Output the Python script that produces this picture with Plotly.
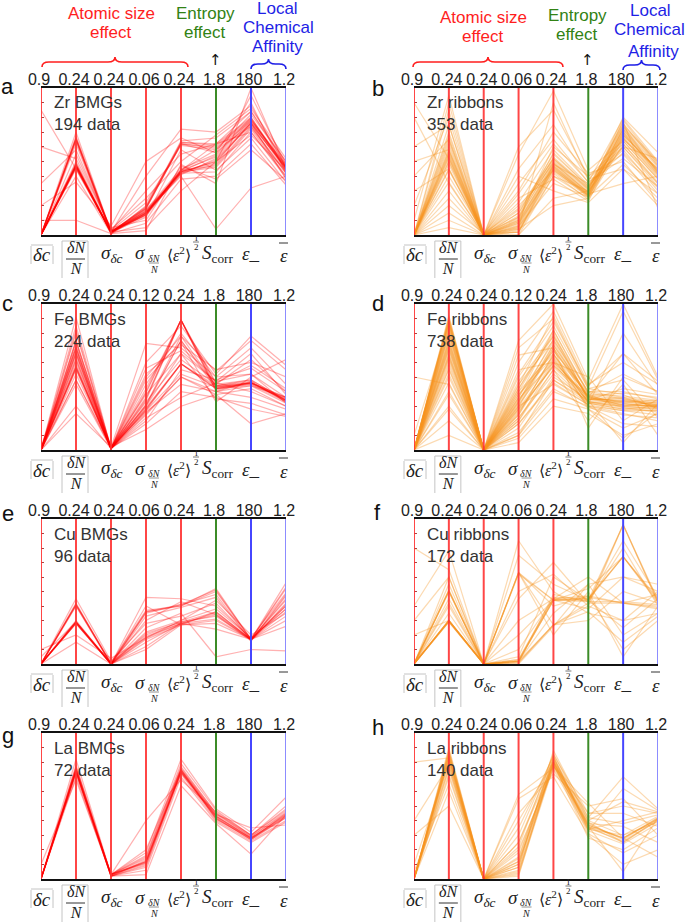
import plotly.graph_objects as go

W, H = 685, 924

# ---------------- data (values normalised to each axis' top value, 0 = bottom, 1 = top) -------------
# axis order: |dc|, dN/N, sigma_dc, sigma_dN/N, <eps^2>^1/2, S_corr, eps_-, eps_bar
top_zr = ["0.9", "0.24", "0.24", "0.06", "0.24", "1.8", "180", "1.2"]
top_fe = ["0.9", "0.24", "0.24", "0.12", "0.24", "1.8", "180", "1.2"]
top_cu = ["0.9", "0.24", "0.24", "0.06", "0.24", "1.8", "180", "1.2"]
top_la = ["0.9", "0.24", "0.24", "0.06", "0.24", "1.8", "180", "1.2"]

zr_bmg = [
    [0, 0.47, 0.02, 0.15, 0.43, 0.50, 0.76, 0.45],
    [0, 0.47, 0.01, 0.14, 0.42, 0.48, 0.74, 0.43],
    [0, 0.48, 0.02, 0.16, 0.44, 0.53, 0.78, 0.47],
    [0, 0.46, 0.03, 0.13, 0.43, 0.46, 0.72, 0.40],
    [0, 0.49, 0.01, 0.17, 0.45, 0.55, 0.80, 0.46],
    [0, 0.45, 0.02, 0.15, 0.41, 0.52, 0.76, 0.38],
    [0, 0.48, 0.02, 0.14, 0.44, 0.58, 0.82, 0.50],
    [0, 0.66, 0.02, 0.18, 0.62, 0.60, 0.78, 0.48],
    [0, 0.64, 0.01, 0.20, 0.63, 0.62, 0.80, 0.44],
    [0, 0.67, 0.03, 0.22, 0.61, 0.58, 0.74, 0.42],
    [0, 0.65, 0.02, 0.19, 0.64, 0.66, 0.84, 0.50],
    [0, 0.70, 0.02, 0.12, 0.58, 0.44, 0.66, 0.36],
    [0, 0.55, 0.04, 0.25, 0.50, 0.68, 0.86, 0.52],
    [0, 0.40, 0.01, 0.08, 0.38, 0.40, 0.62, 0.34],
    [0.35, 0.58, 0.03, 0.30, 0.55, 0.62, 0.70, 0.40],
    [0.60, 0.52, 0.05, 0.10, 0.47, 0.38, 0.58, 0.37],
    [0.85, 0.45, 0.02, 0.05, 0.30, 0.50, 0.95, 0.48],
    [0.10, 0.10, 0.01, 0.03, 0.48, 0.35, 1.00, 0.45],
    [0, 0.62, 0.02, 0.40, 0.72, 0.70, 0.88, 0.46],
    [0, 0.50, 0.03, 0.16, 0.40, 0.04, 0.32, 0.40],
    [0.20, 0.36, 0.06, 0.50, 0.66, 0.56, 0.90, 0.42],
    [0, 0.47, 0.02, 0.15, 0.43, 0.50, 0.68, 0.44],
    [0, 0.65, 0.02, 0.18, 0.62, 0.56, 0.76, 0.46],
    [0, 0.47, 0.02, 0.15, 0.43, 0.49, 0.77, 0.44],
    [0, 0.46, 0.02, 0.14, 0.42, 0.51, 0.75, 0.46],
    [0, 0.48, 0.01, 0.15, 0.44, 0.47, 0.73, 0.42],
    [0, 0.47, 0.02, 0.16, 0.43, 0.54, 0.79, 0.45],
    [0, 0.65, 0.02, 0.19, 0.62, 0.59, 0.77, 0.47],
    [0, 0.66, 0.02, 0.18, 0.63, 0.61, 0.79, 0.45],
    [0, 0.48, 0.02, 0.14, 0.44, 0.62, 0.84, 0.48],
    [0, 0.46, 0.02, 0.17, 0.42, 0.43, 0.70, 0.39],
]
zr_ribbon = [
    [0, 0.54, 0.00, 0.08, 0.47, 0.28, 0.70, 0.43],
    [0, 0.50, 0.00, 0.05, 0.45, 0.26, 0.66, 0.40],
    [0, 0.58, 0.01, 0.12, 0.50, 0.30, 0.72, 0.46],
    [0, 0.45, 0.00, 0.03, 0.42, 0.24, 0.62, 0.36],
    [0, 0.62, 0.00, 0.15, 0.55, 0.33, 0.75, 0.50],
    [0, 0.40, 0.01, 0.02, 0.48, 0.35, 0.58, 0.30],
    [0, 0.70, 0.00, 0.20, 0.44, 0.27, 0.78, 0.48],
    [0, 0.30, 0.00, 0.10, 0.60, 0.40, 0.55, 0.28],
    [0, 0.85, 0.00, 0.25, 0.38, 0.23, 0.68, 0.44],
    [0, 0.20, 0.01, 0.30, 0.70, 0.42, 0.50, 0.22],
    [0.10, 0.95, 0.00, 0.05, 0.90, 0.38, 0.60, 0.52],
    [0.40, 0.65, 0.00, 0.40, 0.30, 0.22, 0.45, 0.20],
    [0.80, 0.35, 0.00, 0.55, 0.98, 0.44, 0.64, 0.38],
    [0, 0.10, 0.00, 0.00, 0.25, 0.30, 0.80, 0.56],
    [0.60, 0.75, 0.01, 0.18, 0.52, 0.31, 0.74, 0.42],
    [0, 0.55, 0.00, 0.07, 0.46, 0.27, 0.70, 0.41],
    [0, 0.48, 0.00, 0.10, 0.48, 0.29, 0.68, 0.45],
    [0.20, 0.80, 0.00, 0.35, 0.65, 0.36, 0.52, 0.33],
    [0, 0.57, 0.00, 0.04, 0.20, 0.25, 0.73, 0.47],
    [0, 0.05, 0.00, 0.15, 0.52, 0.32, 0.77, 0.18],
    [0.90, 0.52, 0.00, 0.02, 0.45, 0.28, 0.35, 0.40],
    [0, 0.66, 0.00, 0.60, 0.85, 0.40, 0.62, 0.35],
    [0, 0.52, 0.00, 0.06, 0.46, 0.27, 0.69, 0.42],
    [0, 0.56, 0.00, 0.09, 0.49, 0.29, 0.71, 0.44],
    [0, 0.60, 0.00, 0.11, 0.51, 0.31, 0.76, 0.47],
    [0, 0.44, 0.00, 0.04, 0.43, 0.26, 0.64, 0.38],
    [0, 0.36, 0.00, 0.02, 0.40, 0.30, 0.60, 0.35],
    [0, 0.64, 0.00, 0.13, 0.53, 0.32, 0.66, 0.39],
    [0, 0.75, 0.00, 0.22, 0.58, 0.34, 0.56, 0.32],
    [0, 0.25, 0.00, 0.06, 0.35, 0.26, 0.48, 0.25],
    [0, 0.90, 0.00, 0.28, 0.62, 0.36, 0.79, 0.50],
    [0, 0.50, 0.00, 0.00, 0.40, 0.25, 0.65, 0.45],
    [0, 0.53, 0.00, 0.09, 0.47, 0.28, 0.72, 0.43],
    [0.30, 0.45, 0.00, 0.45, 0.75, 0.38, 0.45, 0.28],
    [0, 0.68, 0.00, 0.17, 0.49, 0.29, 0.74, 0.49],
    [0, 0.15, 0.00, 0.12, 0.56, 0.33, 0.60, 0.33],
    [0.50, 0.58, 0.00, 0.08, 0.44, 0.27, 0.67, 0.41],
]
fe_bmg = [
    [0, 0.91, 0.01, 0.35, 0.89, 0.43, 0.46, 0.34],
    [0, 0.75, 0.01, 0.40, 0.89, 0.40, 0.47, 0.33],
    [0, 0.66, 0.02, 0.30, 0.75, 0.42, 0.44, 0.36],
    [0, 0.57, 0.01, 0.28, 0.59, 0.44, 0.46, 0.35],
    [0, 0.55, 0.01, 0.25, 0.50, 0.38, 0.42, 0.30],
    [0, 0.48, 0.02, 0.33, 0.62, 0.45, 0.48, 0.34],
    [0, 0.70, 0.01, 0.45, 0.80, 0.50, 0.70, 0.45],
    [0, 0.60, 0.01, 0.52, 0.72, 0.55, 0.60, 0.50],
    [0, 0.80, 0.02, 0.38, 0.66, 0.35, 0.32, 0.24],
    [0, 0.62, 0.01, 0.20, 0.55, 0.48, 0.56, 0.40],
    [0, 0.72, 0.01, 0.60, 0.85, 0.52, 0.78, 0.58],
    [0, 0.25, 0.02, 0.14, 0.30, 0.38, 0.18, 0.25],
    [0, 0.30, 0.01, 0.22, 0.36, 0.46, 0.40, 0.30],
    [0, 0.68, 0.01, 0.48, 0.74, 0.33, 0.50, 0.62],
    [0, 0.52, 0.02, 0.26, 0.45, 0.40, 0.36, 0.28],
    [0, 0.85, 0.01, 0.34, 0.89, 0.46, 0.58, 0.42],
    [0, 0.64, 0.01, 0.56, 0.68, 0.47, 0.66, 0.38],
    [0, 0.58, 0.01, 0.29, 0.59, 0.42, 0.46, 0.36],
    [0, 0.74, 0.02, 0.73, 0.70, 0.50, 0.52, 0.32],
    [0, 0.45, 0.01, 0.18, 0.40, 0.36, 0.28, 0.23],
    [0, 0.67, 0.01, 0.31, 0.78, 0.44, 0.48, 0.34],
    [0, 0.56, 0.01, 0.27, 0.52, 0.43, 0.45, 0.33],
    [0.02, 0.70, 0.01, 0.42, 0.89, 0.41, 0.46, 0.36],
    [0, 0.56, 0.01, 0.27, 0.59, 0.43, 0.46, 0.34],
    [0, 0.57, 0.01, 0.28, 0.59, 0.42, 0.45, 0.35],
    [0, 0.66, 0.01, 0.31, 0.75, 0.44, 0.47, 0.33],
    [0, 0.75, 0.01, 0.39, 0.89, 0.42, 0.46, 0.34],
    [0, 0.48, 0.01, 0.24, 0.50, 0.40, 0.44, 0.32],
    [0, 0.82, 0.01, 0.36, 0.89, 0.45, 0.62, 0.40],
    [0, 0.62, 0.01, 0.30, 0.66, 0.47, 0.52, 0.36],
    [0, 0.70, 0.01, 0.50, 0.78, 0.54, 0.75, 0.55],
]
fe_ribbon = [
    [0, 0.89, 0.00, 0.30, 0.72, 0.36, 0.33, 0.31],
    [0, 0.85, 0.00, 0.25, 0.65, 0.38, 0.30, 0.29],
    [0, 0.80, 0.00, 0.40, 0.80, 0.34, 0.36, 0.33],
    [0, 0.75, 0.00, 0.35, 0.60, 0.37, 0.32, 0.30],
    [0, 0.70, 0.00, 0.20, 0.55, 0.32, 0.28, 0.27],
    [0, 0.65, 0.00, 0.45, 0.75, 0.40, 0.40, 0.35],
    [0, 0.60, 0.00, 0.15, 0.50, 0.35, 0.34, 0.32],
    [0, 0.55, 0.00, 0.50, 0.85, 0.42, 0.38, 0.28],
    [0, 0.90, 0.00, 0.60, 0.95, 0.45, 0.60, 0.45],
    [0, 0.50, 0.00, 0.10, 0.40, 0.30, 0.25, 0.20],
    [0, 0.40, 0.00, 0.08, 0.35, 0.28, 0.15, 0.25],
    [0, 0.30, 0.00, 0.05, 0.30, 0.25, 0.10, 0.18],
    [0, 0.20, 0.00, 0.65, 0.70, 0.15, 0.50, 0.40],
    [0, 0.88, 0.00, 0.75, 1.00, 0.48, 1.00, 0.50],
    [0, 0.82, 0.00, 0.32, 0.70, 0.36, 0.66, 0.38],
    [0, 0.78, 0.00, 0.28, 0.62, 0.33, 0.33, 0.34],
    [0, 0.72, 0.00, 0.38, 0.68, 0.39, 0.35, 0.30],
    [0, 0.10, 0.00, 0.22, 0.55, 0.20, 0.45, 0.10],
    [0.10, 0.86, 0.00, 0.30, 0.45, 0.31, 0.80, 0.44],
    [0, 0.62, 0.00, 0.55, 0.60, 0.50, 0.20, 0.35],
    [0, 0.92, 0.00, 0.42, 0.78, 0.35, 0.31, 0.30],
    [0, 0.68, 0.00, 0.27, 0.58, 0.37, 0.29, 0.26],
    [0.50, 0.45, 0.00, 0.70, 0.90, 0.42, 0.48, 0.22],
    [0, 0.84, 0.00, 0.18, 0.48, 0.34, 0.05, 0.32],
    [0, 0.88, 0.00, 0.33, 0.76, 0.36, 0.31, 0.30],
    [0, 0.86, 0.00, 0.29, 0.70, 0.33, 0.29, 0.28],
    [0, 0.83, 0.00, 0.36, 0.74, 0.35, 0.34, 0.31],
    [0, 0.79, 0.00, 0.24, 0.66, 0.32, 0.30, 0.33],
    [0, 0.76, 0.00, 0.42, 0.82, 0.38, 0.37, 0.34],
    [0, 0.73, 0.00, 0.31, 0.63, 0.30, 0.27, 0.27],
    [0, 0.69, 0.00, 0.26, 0.58, 0.36, 0.33, 0.31],
    [0, 0.66, 0.00, 0.47, 0.78, 0.40, 0.36, 0.29],
    [0, 0.63, 0.00, 0.22, 0.52, 0.33, 0.31, 0.30],
    [0, 0.58, 0.00, 0.34, 0.68, 0.37, 0.39, 0.36],
    [0, 0.52, 0.00, 0.18, 0.46, 0.31, 0.27, 0.24],
    [0, 0.46, 0.00, 0.12, 0.42, 0.29, 0.24, 0.22],
    [0, 0.38, 0.00, 0.28, 0.57, 0.34, 0.42, 0.38],
    [0, 0.91, 0.00, 0.52, 0.88, 0.44, 0.66, 0.47],
    [0, 0.87, 0.00, 0.36, 0.82, 0.39, 0.52, 0.40],
    [0, 0.81, 0.00, 0.20, 0.60, 0.30, 0.18, 0.16],
    [0, 0.74, 0.00, 0.40, 0.66, 0.28, 0.08, 0.26],
    [0, 0.71, 0.00, 0.33, 0.72, 0.37, 0.35, 0.32],
    [0, 0.64, 0.00, 0.24, 0.61, 0.35, 0.32, 0.29],
    [0, 0.56, 0.00, 0.38, 0.64, 0.33, 0.30, 0.28],
    [0, 0.28, 0.00, 0.10, 0.48, 0.32, 0.28, 0.30],
    [0, 0.89, 0.00, 0.44, 0.92, 0.43, 0.95, 0.48],
]
cu_bmg = [
    [0, 0.29, 0.00, 0.19, 0.28, 0.35, 0.17, 0.40],
    [0, 0.29, 0.01, 0.20, 0.29, 0.33, 0.17, 0.36],
    [0, 0.28, 0.00, 0.17, 0.27, 0.30, 0.17, 0.45],
    [0, 0.30, 0.00, 0.22, 0.30, 0.38, 0.18, 0.49],
    [0, 0.41, 0.00, 0.36, 0.40, 0.52, 0.17, 0.56],
    [0, 0.41, 0.01, 0.37, 0.40, 0.50, 0.17, 0.52],
    [0, 0.40, 0.00, 0.35, 0.41, 0.48, 0.16, 0.42],
    [0, 0.28, 0.00, 0.12, 0.28, 0.24, 0.17, 0.30],
    [0, 0.29, 0.00, 0.10, 0.27, 0.28, 0.17, 0.33],
    [0, 0.15, 0.00, 0.46, 0.45, 0.40, 0.18, 0.38],
    [0, 0.45, 0.02, 0.28, 0.33, 0.42, 0.17, 0.26],
    [0.05, 0.29, 0.00, 0.25, 0.35, 0.05, 0.10, 0.09],
    [0, 0.28, 0.00, 0.40, 0.27, 0.36, 0.17, 0.40],
    [0, 0.42, 0.00, 0.30, 0.43, 0.34, 0.16, 0.47],
    [0.10, 0.20, 0.04, 0.18, 0.30, 0.44, 0.20, 0.35],
    [0, 0.29, 0.00, 0.18, 0.28, 0.34, 0.17, 0.41],
    [0, 0.41, 0.00, 0.36, 0.41, 0.51, 0.17, 0.53],
    [0, 0.28, 0.00, 0.15, 0.28, 0.31, 0.17, 0.38],
    [0, 0.29, 0.00, 0.21, 0.29, 0.36, 0.17, 0.44],
    [0, 0.40, 0.00, 0.33, 0.39, 0.46, 0.16, 0.48],
]
cu_ribbon = [
    [0, 0.30, 0.00, 0.02, 0.44, 0.44, 0.74, 0.42],
    [0, 0.30, 0.00, 0.01, 0.27, 0.40, 0.96, 0.44],
    [0, 0.50, 0.00, 0.63, 0.44, 0.46, 0.42, 0.40],
    [0, 0.50, 0.00, 0.03, 0.46, 0.45, 0.74, 0.45],
    [0, 0.30, 0.00, 0.63, 0.20, 0.50, 0.05, 0.40],
    [0, 0.45, 0.00, 0.85, 0.50, 0.35, 0.30, 0.50],
    [0, 0.29, 0.00, 0.00, 0.26, 0.55, 0.20, 0.35],
    [0, 0.55, 0.00, 0.05, 0.60, 0.44, 0.96, 0.42],
    [0.40, 0.78, 0.00, 0.45, 0.70, 0.42, 0.42, 0.38],
    [0, 0.30, 0.00, 0.02, 0.44, 0.38, 0.60, 0.55],
    [0.80, 0.65, 0.00, 0.30, 0.45, 0.60, 0.42, 0.48],
    [0, 0.51, 0.00, 0.01, 0.48, 0.43, 0.80, 0.40],
    [0, 0.29, 0.00, 0.63, 0.40, 0.47, 0.10, 0.30],
    [0, 0.40, 0.00, 0.20, 0.44, 0.52, 0.74, 0.43],
    [0.20, 0.30, 0.00, 0.02, 0.27, 0.30, 0.50, 0.42],
    [0, 0.60, 0.00, 0.75, 0.55, 0.44, 0.25, 0.45],
    [0, 0.30, 0.00, 0.02, 0.44, 0.45, 0.74, 0.44],
    [0, 0.51, 0.00, 0.62, 0.44, 0.43, 0.43, 0.41],
    [0, 0.29, 0.00, 0.01, 0.27, 0.42, 0.96, 0.43],
    [0, 0.50, 0.00, 0.03, 0.45, 0.47, 0.42, 0.39],
    [0, 0.35, 0.00, 0.50, 0.62, 0.40, 0.30, 0.35],
    [0, 0.42, 0.00, 0.02, 0.35, 0.55, 0.60, 0.50],
    [0.30, 0.60, 0.00, 0.10, 0.45, 0.44, 0.85, 0.46],
    [0, 0.30, 0.00, 0.63, 0.27, 0.36, 0.15, 0.33],
]
la_bmg = [
    [0, 0.74, 0.03, 0.12, 0.74, 0.43, 0.28, 0.44],
    [0, 0.73, 0.02, 0.10, 0.73, 0.42, 0.27, 0.42],
    [0, 0.76, 0.03, 0.14, 0.76, 0.45, 0.29, 0.46],
    [0, 0.72, 0.02, 0.08, 0.72, 0.40, 0.26, 0.40],
    [0, 0.78, 0.03, 0.16, 0.79, 0.47, 0.30, 0.50],
    [0, 0.70, 0.02, 0.06, 0.70, 0.39, 0.25, 0.39],
    [0, 0.82, 0.03, 0.18, 0.82, 0.48, 0.32, 0.56],
    [0, 0.75, 0.02, 0.03, 0.64, 0.38, 0.17, 0.44],
    [0.10, 0.68, 0.03, 0.20, 0.75, 0.44, 0.35, 0.37],
    [0, 0.74, 0.02, 0.12, 0.73, 0.43, 0.28, 0.43],
    [0, 0.75, 0.03, 0.11, 0.75, 0.41, 0.27, 0.45],
    [0, 0.77, 0.03, 0.40, 0.68, 0.46, 0.30, 0.47],
    [0, 0.74, 0.03, 0.12, 0.74, 0.43, 0.28, 0.44],
    [0, 0.75, 0.02, 0.13, 0.75, 0.44, 0.29, 0.45],
    [0, 0.73, 0.03, 0.11, 0.73, 0.42, 0.27, 0.43],
    [0, 0.74, 0.02, 0.09, 0.74, 0.41, 0.28, 0.42],
    [0, 0.76, 0.03, 0.15, 0.77, 0.45, 0.30, 0.48],
]
la_ribbon = [
    [0, 0.85, 0.00, 0.10, 0.80, 0.37, 0.28, 0.41],
    [0, 0.82, 0.00, 0.05, 0.78, 0.35, 0.26, 0.40],
    [0, 0.88, 0.00, 0.15, 0.82, 0.40, 0.30, 0.43],
    [0, 0.78, 0.00, 0.20, 0.75, 0.33, 0.24, 0.38],
    [0, 0.75, 0.00, 0.30, 0.85, 0.45, 0.50, 0.45],
    [0, 0.70, 0.00, 0.45, 0.72, 0.50, 0.55, 0.30],
    [0, 0.60, 0.00, 0.55, 0.70, 0.30, 0.10, 0.20],
    [0, 0.90, 0.00, 0.08, 0.88, 0.42, 0.70, 0.48],
    [0.10, 0.80, 0.00, 0.25, 0.79, 0.28, 0.20, 0.35],
    [0.30, 0.50, 0.00, 0.58, 0.76, 0.38, 0.36, 0.25],
    [0.80, 0.83, 0.00, 0.02, 0.81, 0.36, 0.05, 0.42],
    [0, 0.86, 0.00, 0.12, 0.77, 0.52, 0.28, 0.15],
    [0, 0.84, 0.00, 0.35, 0.84, 0.34, 0.40, 0.46],
    [0.05, 0.65, 0.00, 0.04, 0.80, 0.39, 0.25, 0.41],
    [0, 0.84, 0.00, 0.08, 0.80, 0.36, 0.28, 0.41],
    [0, 0.86, 0.00, 0.12, 0.81, 0.38, 0.27, 0.42],
    [0, 0.80, 0.00, 0.18, 0.78, 0.34, 0.30, 0.39],
    [0, 0.83, 0.00, 0.06, 0.79, 0.36, 0.25, 0.40],
    [0, 0.76, 0.00, 0.25, 0.83, 0.42, 0.38, 0.44],
    [0, 0.88, 0.00, 0.22, 0.86, 0.40, 0.53, 0.46],
    [0, 0.72, 0.00, 0.40, 0.80, 0.31, 0.18, 0.30],
    [0, 0.82, 0.00, 0.03, 0.77, 0.45, 0.45, 0.36],
    [0.40, 0.78, 0.00, 0.14, 0.82, 0.37, 0.28, 0.42],
    [0, 0.87, 0.00, 0.10, 0.84, 0.33, 0.62, 0.47],
]

panel_letters = ["a", "b", "c", "d", "e", "f", "g", "h"]
panel_names = ["Zr BMGs", "Zr ribbons", "Fe BMGs", "Fe ribbons",
               "Cu BMGs", "Cu ribbons", "La BMGs", "La ribbons"]
panel_counts = [194, 353, 224, 738, 96, 172, 72, 140]
panel_data = [zr_bmg, zr_ribbon, fe_bmg, fe_ribbon, cu_bmg, cu_ribbon, la_bmg, la_ribbon]
panel_tops = [top_zr, top_zr, top_fe, top_fe, top_cu, top_cu, top_la, top_la]

# bottom axis-name pieces: (axis index, text, dx px, dy px below frame, font size)
label_pieces = [
    (0, "<i>δc</i>", 1, 20, 19),
    (1, "<i>δN</i><br><i>N</i>", 0, 23, 16),
    (2, "<i>σ</i><sub><i>δc</i></sub>", 1, 19, 19),
    (3, "<i>σ</i>", -6, 18, 19),
    (3, "<i>δN</i>", 8, 23, 10),
    (3, "<i>N</i>", 8, 34, 10),
    (4, "⟨<i>ε</i><sup>2</sup>⟩", -2, 19, 16),
    (4, "1", 15, 3, 9),
    (4, "2", 15, 12, 9),
    (5, "<i>S</i><sub>corr</sub>", 1, 19, 19),
    (6, "<i>ε</i>_", 0, 19, 19),
    (7, "<i>ε</i>", -2, 21, 19),
]

# ---------------- layout geometry (pixels) ----------------
cols = [(41, 286), (414, 658)]
rows = [(88, 235), (304, 450), (519, 664), (733, 879)]
letter_pos = [(8, 86), (378, 88), (8, 304), (378, 304), (8, 513), (377, 512), (8, 735), (378, 727)]

RED_LINE = "rgb(255,0,0)"
ORANGE_LINE = "rgb(247,148,30)"
axis_colors = ["rgba(255,50,50,0.9)"] * 5 + ["rgb(60,140,40)", "rgb(70,70,255)", "rgb(140,140,255)"]
GRAY = "#c4c4c4"


def px(x):
    return x / W


def py(y):
    return 1 - y / H


def pline(xa_, ya_, xb_, yb_, color, width=1):
    return dict(type="line", xref="paper", yref="paper", x0=px(xa_), y0=py(ya_),
                x1=px(xb_), y1=py(yb_), line=dict(color=color, width=width))


fig = go.Figure()
layout = dict(width=W, height=H, margin=dict(l=0, r=0, t=0, b=0, pad=0, autoexpand=False),
              paper_bgcolor="white", plot_bgcolor="rgba(0,0,0,0)", showlegend=False)
annotations = []
shapes = []

for k in range(8):
    c, r = k % 2, k // 2
    (x0, x1), (y0, y1) = cols[c], rows[r]
    xa = "x" if k == 0 else f"x{k+1}"
    ya = "y" if k == 0 else f"y{k+1}"
    xkey = "xaxis" if k == 0 else f"xaxis{k+1}"
    ykey = "yaxis" if k == 0 else f"yaxis{k+1}"
    layout[xkey] = dict(domain=[px(x0), px(x1)], range=[0, 7], anchor=ya, side="top",
                        tickvals=list(range(8)), ticktext=panel_tops[k], ticks="",
                        ticklabelstandoff=-5, ticklabelshift=-2, automargin=False,
                        tickfont=dict(family="Liberation Sans, Arial", size=16, color="#222"),
                        showgrid=False, zeroline=False, showline=True, mirror=True,
                        linecolor="#111", linewidth=2, fixedrange=True)
    layout[ykey] = dict(domain=[py(y1), py(y0)], range=[0, 1], anchor=xa, automargin=False,
                        showgrid=False, zeroline=False, showline=False, showticklabels=False,
                        ticks="inside", ticklen=3, tickwidth=1, tickcolor="#a44",
                        tickvals=[i / 10 for i in range(1, 10)], fixedrange=True)

    col = RED_LINE if k % 2 == 0 else ORANGE_LINE
    op = 0.30 if k % 2 == 0 else 0.34
    for prof in panel_data[k]:
        fig.add_trace(go.Scatter(x=list(range(8)), y=prof, mode="lines",
                                 line=dict(color=col, width=1.2), opacity=op,
                                 xaxis=xa, yaxis=ya, hoverinfo="skip", showlegend=False))

    # vertical parallel axes
    for i in range(8):
        shapes.append(dict(type="line", xref=xa, yref=f"{ya} domain", x0=i, x1=i, y0=0, y1=1,
                           line=dict(color=axis_colors[i], width=2), layer="above"))

    # bottom axis names
    for i, txt, dx, dy, fs in label_pieces:
        annotations.append(dict(x=i, y=0, xref=xa, yref=f"{ya} domain", xshift=dx, yshift=-dy,
                                text=txt, showarrow=False, xanchor="center", yanchor="middle",
                                font=dict(family="Liberation Serif, Times New Roman", size=fs,
                                          color="#222")))
    sp = (x1 - x0) / 7
    a0, a1, a3, a4, a7 = x0, x0 + sp, x0 + 3 * sp, x0 + 4 * sp, x1
    # |dc| gray box
    shapes.append(pline(a0 - 10, y1 + 11, a0 - 10, y1 + 29, GRAY))
    shapes.append(pline(a0 + 12, y1 + 11, a0 + 12, y1 + 29, GRAY))
    shapes.append(pline(a0 - 10, y1 + 10, a0 + 12, y1 + 10, GRAY))
    # |dN/N| gray box + fraction bar
    shapes.append(pline(a1 - 14, y1 + 6, a1 - 14, y1 + 43, GRAY))
    shapes.append(pline(a1 + 12, y1 + 6, a1 + 12, y1 + 43, GRAY))
    shapes.append(pline(a1 - 14, y1 + 6, a1 + 12, y1 + 6, GRAY))
    shapes.append(pline(a1 - 10, y1 + 24, a1 + 9, y1 + 24, "#333"))
    # small fraction bars
    shapes.append(pline(a3 + 3, y1 + 28, a3 + 13, y1 + 28, "#777", 0.8))
    shapes.append(pline(a4 + 12, y1 + 7, a4 + 18, y1 + 7, "#555", 0.8))
    # overline on eps
    shapes.append(pline(a7 - 7, y1 + 8, a7 + 2, y1 + 8, "#333", 1))

    # inside label
    annotations.append(dict(x=px(x0 + 11), y=py(y0 + 26), xref="paper", yref="paper",
                            text=f"{panel_names[k]}<br>{panel_counts[k]} data", showarrow=False,
                            xanchor="left", yanchor="middle", align="left",
                            font=dict(family="Liberation Sans, Arial", size=17, color="#333")))
    # panel letter
    lx, ly = letter_pos[k]
    annotations.append(dict(x=px(lx), y=py(ly), xref="paper", yref="paper", text=panel_letters[k],
                            showarrow=False, xanchor="center", yanchor="middle",
                            font=dict(family="Liberation Sans, Arial", size=22, color="#111")))


# header annotations / braces
def brace(xa_, xb_, y, color):
    xm = (xa_ + xb_) / 2
    rr = 7
    pts = [("M", xa_, y + 5), ("Q", xa_, y, xa_ + rr, y), ("L", xm - rr, y),
           ("Q", xm, y, xm, y - 5), ("Q", xm, y, xm + rr, y), ("L", xb_ - rr, y),
           ("Q", xb_, y, xb_, y + 5)]
    path = ""
    for p in pts:
        coords = p[1:]
        s = [f"{px(coords[j]):.5f},{py(coords[j+1]):.5f}" for j in range(0, len(coords), 2)]
        path += p[0] + " " + " ".join(s) + " "
    return dict(type="path", xref="paper", yref="paper", path=path.strip(),
                line=dict(color=color, width=1.6))


HRED, HGREEN, HBLUE = "rgb(255,30,30)", "rgb(50,130,20)", "rgb(30,30,230)"
header_lines = [
    (111, 13, "Atomic size", HRED), (111, 33, "effect", HRED),
    (205, 13, "Entropy", HGREEN), (205, 33, "effect", HGREEN),
    (277, 9, "Local", HBLUE), (278, 27, "Chemical", HBLUE), (277, 47, "Affinity", HBLUE),
    (483, 17, "Atomic size", HRED), (483, 37, "effect", HRED),
    (577, 15, "Entropy", HGREEN), (577, 35, "effect", HGREEN),
    (650, 10, "Local", HBLUE), (649, 30, "Chemical", HBLUE), (653, 51, "Affinity", HBLUE),
]
for hx, hy, txt, hc in header_lines:
    annotations.append(dict(x=px(hx), y=py(hy), xref="paper", yref="paper", text=txt,
                            showarrow=False, xanchor="center", yanchor="middle",
                            font=dict(family="Liberation Sans, Arial", size=17, color=hc)))
for ax_, ay_ in [(215, 60), (587, 60)]:
    annotations.append(dict(x=px(ax_), y=py(ay_), xref="paper", yref="paper", text="↑",
                            showarrow=False, xanchor="center", yanchor="middle",
                            font=dict(family="DejaVu Sans", size=15, color="#111")))
shapes.append(brace(42, 188, 62, HRED))
shapes.append(brace(251, 286, 64, HBLUE))
shapes.append(brace(413, 563, 62, HRED))
shapes.append(brace(623, 660, 65, HBLUE))

layout["annotations"] = annotations
layout["shapes"] = shapes
fig.update_layout(**layout)
fig.write_html("out.html", config={"displayModeBar": False},
               post_script="document.body.style.margin='0px';document.body.style.padding='0px';")
